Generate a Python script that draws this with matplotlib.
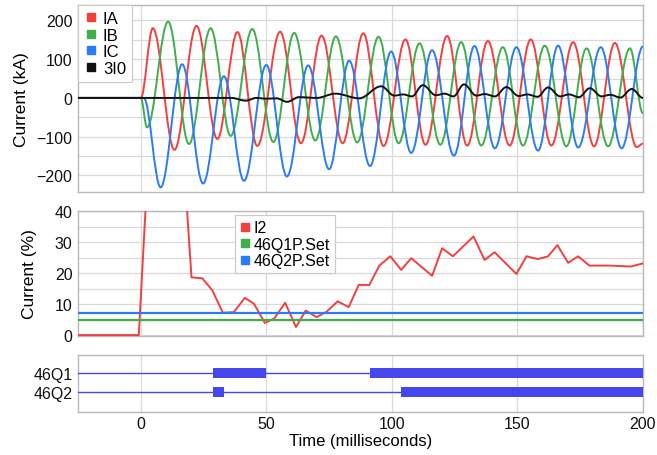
import matplotlib
matplotlib.use("Agg")
import matplotlib.pyplot as plt
from matplotlib.path import Path
from matplotlib.patches import PathPatch
from matplotlib.lines import Line2D

plt.rcParams['font.family'] = ['Liberation Sans', 'DejaVu Sans']
plt.rcParams['axes.unicode_minus'] = True

# ---------------- data ----------------
# Phase currents: successive extrema (time ms, kA)
ia_t = [-25, 0, 4.8, 13.4, 22.2, 30.5, 38.5, 46.4, 55.5, 63.8, 72.0, 80.4, 88.6, 96.7,
        105.4, 113.4, 122.0, 130.0, 138.2, 146.9, 155.3, 163.5, 172.2, 180.5, 188.8, 197.5, 200]
ia_v = [0, 0, 180, -134, 186, -106, 170, -124, 171, -117, 161, -117, 167, -124,
        151, -121, 160, -123, 147, -123, 151, -123, 144, -125, 142, -127, -118]

ib_t = [-25, 0, 2.5, 10.9, 19.2, 27.8, 35.8, 44.4, 52.8, 61.1, 69.5, 77.7, 86.2, 94.7,
        102.7, 111.0, 119.3, 127.6, 135.6, 144.2, 152.2, 160.9, 169.5, 177.5, 186.1, 194.8, 200]
ib_v = [0, 0, -76, 197, -119, 180, -98, 178, -114, 168, -110, 159, -115, 158,
        -117, 141, -121, 144, -123, 131, -123, 135, -125, 128, -125, 128, -40]

ic_t = [-25, 1.2, 7.9, 16.5, 24.8, 33.1, 41.1, 50.0, 58.2, 66.7, 75.0, 83.0, 91.3, 99.7,
        107.7, 116.0, 124.7, 132.9, 141.0, 149.6, 158.2, 166.2, 174.2, 183.2, 191.5, 200]
ic_v = [0, 0, -231, 87, -221, 56, -214, 85, -203, 84, -184, 96, -176, 120,
        -142, 123, -149, 134, -130, 131, -136, 135, -128, 131, -130, 133]

i0_t = [-25, 36, 41.8, 46, 50, 54, 58.3, 63, 70, 77.5, 87, 95.7, 101, 104.5, 108, 112.3,
        117.5, 121, 124.5, 128.7, 133.6, 137, 141, 145.6, 150.5, 154, 158, 162.2, 167,
        170.5, 174.5, 178.8, 183.5, 187, 191, 195.5, 200]
i0_v = [0, 0, -7, 0, -2, -1, -10, 2, 0, 11, -1, 30, 6, 9, 4, 33, 7, 11, 4, 35, 6, 10, 4,
        28, 5, 9, 3, 27, 4, 9, 2, 25, 4, 8, 1, 23, 0]

# Negative-sequence current I2 (%)
i2_t = [-25, -0.8, 4, 8, 12, 16, 20.2, 24.5, 28.5, 32.7, 37.1, 41.4, 45.1, 49.4, 53.1,
        57.5, 61.8, 65.7, 70.0, 74.0, 78.4, 82.8, 86.8, 91.0, 95.0, 99.4, 103.7, 107.7,
        116.0, 120.0, 124.3, 132.5, 136.9, 140.9, 149.6, 153.6, 158.2, 162.2, 165.9,
        170.2, 174.2, 178.6, 186.8, 195.1, 199.5, 200]
i2_v = [0, 0, 72, 74, 73, 70, 18.6, 18.3, 14.4, 7.2, 7.4, 12.0, 10.1, 3.9, 5.3,
        10.4, 2.6, 7.9, 5.8, 7.5, 10.9, 9.0, 16.2, 16.1, 22.4, 25.4, 21.0, 24.8,
        19.1, 28.0, 25.4, 31.8, 24.2, 26.7, 19.7, 25.4, 24.5, 25.4, 29.0,
        23.3, 25.4, 22.4, 22.4, 22.1, 23.0, 23.1]
q1_set = 5.0
q2_set = 7.0

# Digital elements: (start ms, duration ms) asserted intervals
q1_on = [(28.8, 21.1), (91.2, 108.8)]
q2_on = [(28.8, 4.3), (103.8, 96.2)]
dig_labels = ['46Q1', '46Q2']

x_ticks = [0, 50, 100, 150, 200]
y1_ticks = [-200, -100, 0, 100, 200]
y2_ticks = [0, 10, 20, 30, 40]

RED = '#f2403f'
GREEN = '#3fae4c'
BLUE = '#2a7cf5'
BLACK = '#111111'
DIG = '#4646ef'
GRID = '#d9d9d9'
FRAME = '#b8b8b8'
FS = 11.5


def smooth_path(ts, vs):
    """Bezier (CURVE4) segments through the extrema with flat tangents."""
    verts = [(ts[0], vs[0])]
    codes = [Path.MOVETO]
    k = 0.36
    for i in range(len(ts) - 1):
        t0, v0, t1, v1 = ts[i], vs[i], ts[i + 1], vs[i + 1]
        dt = t1 - t0
        verts += [(t0 + k * dt, v0), (t1 - k * dt, v1), (t1, v1)]
        codes += [Path.CURVE4] * 3
    return Path(verts, codes)


fig = plt.figure(figsize=(6.57, 4.56), dpi=100)
L, W = 78 / 657, 565 / 657
ax1 = fig.add_axes([L, 1 - 193 / 456, W, 187 / 456])
ax2 = fig.add_axes([L, 1 - 337 / 456, W, 125 / 456])
ax3 = fig.add_axes([L, 1 - 413 / 456, W, 57 / 456])

for ax in (ax1, ax2, ax3):
    ax.set_xlim(-25, 200)
    ax.set_xticks(x_ticks)
    for s in ax.spines.values():
        s.set_color(FRAME)
        s.set_linewidth(1.0)
    ax.tick_params(length=0, labelsize=FS, colors='#111111', pad=4)
    ax.set_axisbelow(True)

# ---- top panel ----
for ts, vs, c in ((ia_t, ia_v, RED), (ib_t, ib_v, GREEN), (ic_t, ic_v, BLUE), (i0_t, i0_v, BLACK)):
    ax1.add_patch(PathPatch(smooth_path(ts, vs), facecolor='none', edgecolor=c, lw=1.4,
                            zorder=3 if c != BLACK else 4))
ax1.set_ylim(-243, 240)
ax1.set_yticks(y1_ticks)
ax1.set_yticks(range(-200, 201, 50), minor=True)
ax1.tick_params(which='minor', length=0)
ax1.grid(True, which='both', axis='y', color=GRID, lw=0.9)
ax1.grid(True, which='major', axis='x', color=GRID, lw=0.9)
ax1.set_xticklabels([])
ax1.set_ylabel('Current (kA)', fontsize=12.5, labelpad=5)
h1 = [Line2D([], [], marker='s', ls='none', ms=6, color=c) for c in (RED, GREEN, BLUE, BLACK)]
leg1 = ax1.legend(h1, ['IA', 'IB', 'IC', '3I0'], loc='upper left', bbox_to_anchor=(0, 1),
                  borderaxespad=0, fontsize=FS + 0.5, frameon=True, fancybox=False,
                  edgecolor='#cccccc', framealpha=1, handlelength=0.8, handletextpad=0.35,
                  labelspacing=0.1, borderpad=0.35)
leg1.get_frame().set_linewidth(0.9)

# ---- middle panel ----
ax2.plot(i2_t, i2_v, color=RED, lw=1.4, zorder=3)
ax2.axhline(q1_set, color=GREEN, lw=1.6, zorder=3)
ax2.axhline(q2_set, color=BLUE, lw=1.6, zorder=3)
ax2.set_ylim(-0.3, 40)
ax2.set_yticks(y2_ticks)
ax2.set_yticks(range(0, 41, 5), minor=True)
ax2.tick_params(which='minor', length=0)
ax2.grid(True, which='both', axis='y', color=GRID, lw=0.9)
ax2.grid(True, which='major', axis='x', color=GRID, lw=0.9)
ax2.set_xticklabels([])
ax2.set_ylabel('Current (%)', fontsize=12.5, labelpad=13)
h2 = [Line2D([], [], marker='s', ls='none', ms=6, color=c) for c in (RED, GREEN, BLUE)]
leg2 = ax2.legend(h2, ['I2', '46Q1P.Set', '46Q2P.Set'], loc='upper left',
                  bbox_to_anchor=(0.278, 0.965), borderaxespad=0, fontsize=FS,
                  frameon=True, fancybox=False, edgecolor='#cccccc', framealpha=1,
                  handlelength=0.6, handletextpad=0.25, labelspacing=0.1, borderpad=0.3)
leg2.get_frame().set_linewidth(0.9)

# ---- bottom panel ----
levels = [1, 0]
for lvl, on in zip(levels, (q1_on, q2_on)):
    ax3.plot([-25, 200], [lvl, lvl], color=DIG, lw=1.0, zorder=3)
    ax3.broken_barh(on, (lvl - 0.27, 0.54), facecolors=DIG, edgecolor='none', zorder=3)
ax3.set_ylim(-1.05, 1.95)
ax3.set_yticks(levels)
ax3.set_yticklabels(dig_labels)
ax3.grid(True, axis='x', color=GRID, lw=0.9)
ax3.tick_params(axis='x', pad=3)
ax3.set_xlabel('Time (milliseconds)', fontsize=12, labelpad=1)

fig.savefig('out.png', dpi=100)
